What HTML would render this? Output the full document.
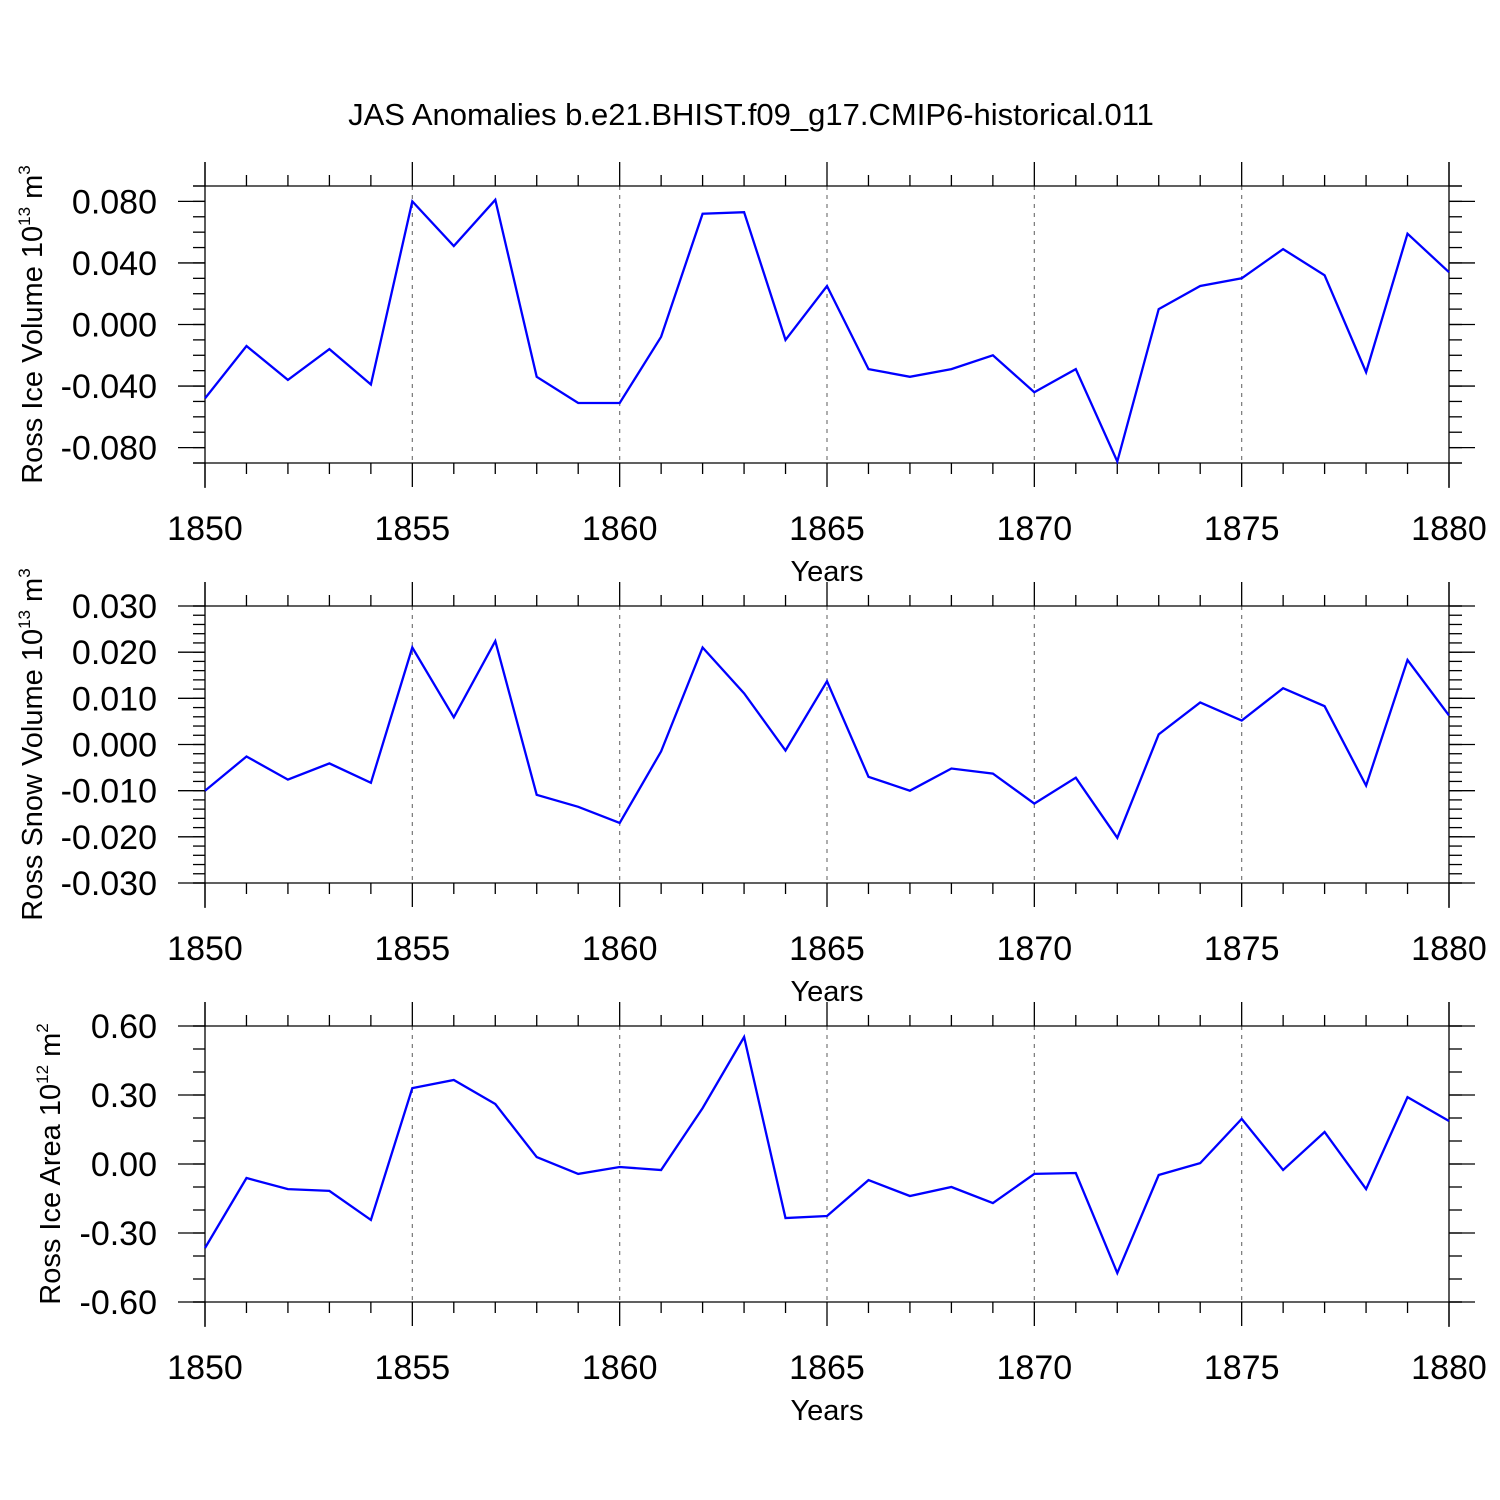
<!DOCTYPE html>
<html><head><meta charset="utf-8">
<style>
html,body{margin:0;padding:0;background:#fff;}
svg{display:block;font-family:"Liberation Sans",Arial,sans-serif;}
</style></head>
<body>
<svg id="chart" width="1500" height="1500" viewBox="0 0 1500 1500" xmlns="http://www.w3.org/2000/svg">
<rect width="1500" height="1500" fill="#fff"/>
<text x="751" y="125" font-size="31" text-anchor="middle">JAS Anomalies b.e21.BHIST.f09_g17.CMIP6-historical.011</text>
</svg>
<script>
const years = [1850,1851,1852,1853,1854,1855,1856,1857,1858,1859,1860,1861,1862,1863,1864,1865,1866,1867,1868,1869,1870,1871,1872,1873,1874,1875,1876,1877,1878,1879,1880];
const iceVolume = [-0.048,-0.014,-0.036,-0.016,-0.039,0.080,0.051,0.081,-0.034,-0.051,-0.051,-0.008,0.072,0.073,-0.010,0.025,-0.029,-0.034,-0.029,-0.020,-0.044,-0.029,-0.089,0.010,0.025,0.030,0.049,0.032,-0.031,0.059,0.034];
const snowVolume = [-0.010,-0.0026,-0.0076,-0.0041,-0.0083,0.021,0.0059,0.0224,-0.0109,-0.0135,-0.017,-0.0015,0.021,0.0111,-0.0013,0.0137,-0.007,-0.010,-0.0052,-0.0063,-0.0128,-0.0072,-0.0202,0.0022,0.0091,0.0052,0.0122,0.0083,-0.0089,0.0183,0.0063];
const iceArea = [-0.365,-0.061,-0.109,-0.117,-0.243,0.330,0.365,0.261,0.030,-0.043,-0.013,-0.026,0.243,0.552,-0.235,-0.226,-0.070,-0.139,-0.100,-0.170,-0.043,-0.039,-0.474,-0.048,0.004,0.196,-0.026,0.139,-0.109,0.291,0.187];
const xTicks = [1850,1855,1860,1865,1870,1875,1880];
const iceVolTicks = [0.08,0.04,0,-0.04,-0.08];
const iceVolLabels = ["0.080","0.040","0.000","-0.040","-0.080"];
const snowTicks = [0.03,0.02,0.01,0,-0.01,-0.02,-0.03];
const snowLabels = ["0.030","0.020","0.010","0.000","-0.010","-0.020","-0.030"];
const areaTicks = [0.6,0.3,0,-0.3,-0.6];
const areaLabels = ["0.60","0.30","0.00","-0.30","-0.60"];

const svg = document.getElementById('chart');
const NS = 'http://www.w3.org/2000/svg';
function mk(tag, attrs, parent){
  const e = document.createElementNS(NS, tag);
  for (const k in attrs) e.setAttribute(k, attrs[k]);
  (parent||svg).appendChild(e);
  return e;
}
const X0=205, X1=1449;
function xs(y){ return X0 + (y-1850)/(30)*(X1-X0); }

function panel(cfg){
  const g = mk('g', {});
  
  
  const top=cfg.top, bot=cfg.bot, ymin=cfg.ymin, ymax=cfg.ymax;
  const ys = v => top + (ymax-v)/(ymax-ymin)*(bot-top);
  const st = {stroke:'#000','stroke-width':1.3, fill:'none'};
  for (let i=1;i<xTicks.length-1;i++){
    const gl = mk('line', {x1:xs(xTicks[i]),x2:xs(xTicks[i]),y1:top,y2:bot,stroke:'#777','stroke-width':1.2,'stroke-dasharray':'4,5'}, g);
    
    
  }
  mk('line', Object.assign({x1:193,x2:1462,y1:top,y2:top}, st), g);
  mk('line', Object.assign({x1:193,x2:1462,y1:bot,y2:bot}, st), g);
  mk('line', Object.assign({x1:X0,x2:X0,y1:top-24,y2:bot+25}, st), g);
  mk('line', Object.assign({x1:X1,x2:X1,y1:top-24,y2:bot+25}, st), g);
  for (let yr=1850; yr<=1880; yr++){
    const x = xs(yr), major = yr%5===0;
    const L = major?24:11;
    mk('line', Object.assign({x1:x,x2:x,y1:top-L,y2:top}, st), g);
    mk('line', Object.assign({x1:x,x2:x,y1:bot,y2:bot+L}, st), g);
  }
  xTicks.forEach(t=>{
    const tx = mk('text', {x:xs(t), y:bot+77, 'font-size':34, 'text-anchor':'middle'}, g);
    
    
    tx.textContent = t;
  });
  const xt = mk('text', {x:827, y:bot+118, 'font-size':29, 'text-anchor':'middle'}, g);
  
  
  xt.textContent = 'Years';
  const n = Math.round((ymax-ymin)/cfg.minor);
  for (let i=0;i<=n;i++){
    const v = ymin + i*cfg.minor, y = ys(v);
    mk('line', Object.assign({x1:193,x2:X0,y1:y,y2:y}, st), g);
    mk('line', Object.assign({x1:X1,x2:1462,y1:y,y2:y}, st), g);
  }
  cfg.ticks.forEach((t,i)=>{
    const y = ys(t);
    mk('line', Object.assign({x1:178,x2:X0,y1:y,y2:y}, st), g);
    mk('line', Object.assign({x1:X1,x2:1475,y1:y,y2:y}, st), g);
    const tx = mk('text', {x:157, y:y+12, 'font-size':34, 'text-anchor':'end'}, g);
    
    
    tx.textContent = cfg.labels[i];
  });
  const cy = (top+bot)/2;
  const yt = mk('text', {x:0, y:0, 'font-size':29, 'text-anchor':'middle', transform:`translate(${cfg.tx},${cy}) rotate(-90)`}, g);
  
  
  yt.innerHTML = cfg.title + ' 10<tspan font-size="17" dy="-12">' + cfg.exp + '</tspan><tspan dy="12"> m</tspan><tspan font-size="17" dy="-12">' + cfg.unit + '</tspan>';
  const pts = years.map((yr,i)=> xs(yr).toFixed(1)+','+ys(cfg.data[i]).toFixed(1)).join(' ');
  const pl = mk('polyline', {points:pts, fill:'none', stroke:'#0000ff', 'stroke-width':2.3, 'stroke-linejoin':'miter'}, g);
  
  
}
panel({name:'ice-volume-panel', top:186, bot:463, ymin:-0.09, ymax:0.09, minor:0.01, ticks:iceVolTicks, labels:iceVolLabels, data:iceVolume, title:'Ross Ice Volume', exp:'13', unit:'3', tx:42});
panel({name:'snow-volume-panel', top:606, bot:883, ymin:-0.03, ymax:0.03, minor:0.002, ticks:snowTicks, labels:snowLabels, data:snowVolume, title:'Ross Snow Volume', exp:'13', unit:'3', tx:42});
panel({name:'ice-area-panel', top:1026, bot:1302, ymin:-0.6, ymax:0.6, minor:0.1, ticks:areaTicks, labels:areaLabels, data:iceArea, title:'Ross Ice Area', exp:'12', unit:'2', tx:60});
</script>
</body></html>
